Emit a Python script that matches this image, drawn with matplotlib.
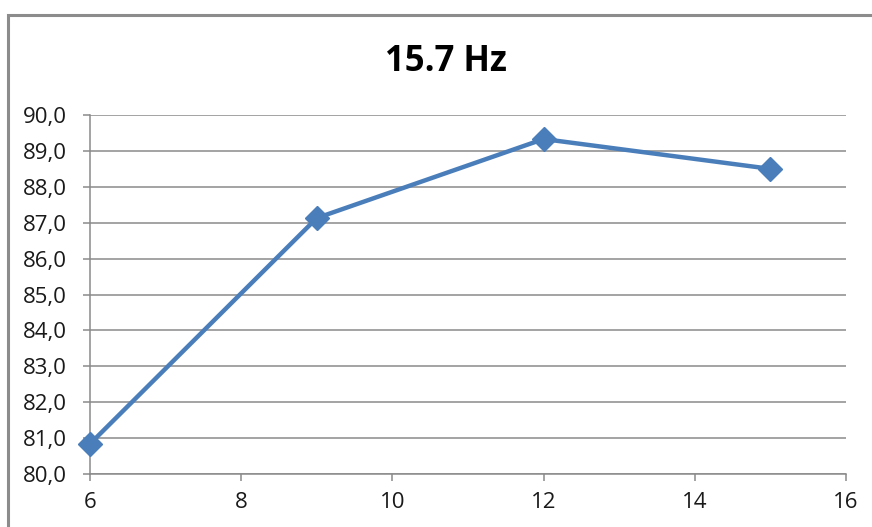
import matplotlib
matplotlib.use("Agg")
import matplotlib.pyplot as plt
from matplotlib.patches import Rectangle

# Series data
x_values = [6, 9, 12, 15]
y_values = [80.84, 87.13, 89.33, 88.50]
x_ticks = [6, 8, 10, 12, 14, 16]
y_ticks = [80, 81, 82, 83, 84, 85, 86, 87, 88, 89, 90]
title_text = "15.7 Hz"

W, H = 872, 527
fig = plt.figure(figsize=(W / 100, H / 100), dpi=100)
fig.patch.set_facecolor("white")

# outer chart frame (runs off the right and bottom edges)
fig.patches.append(Rectangle((8 / W, -0.1), 1.2, 1 - 15 / H + 0.1,
                             transform=fig.transFigure, fill=False,
                             edgecolor="#8c8c8c", linewidth=2.2, zorder=0))

ax = fig.add_axes([90 / W, 1 - 474 / H, (846 - 90) / W, (474 - 115) / H])
grid_c = "#8a8a8a"

ax.plot(x_values, y_values, color="#4a7ebb", linewidth=3.2, marker="D",
        markersize=12, markerfacecolor="#4a7ebb", markeredgecolor="#4a7ebb",
        clip_on=False, zorder=3)

ax.set_xlim(6, 16)
ax.set_ylim(80, 90)
ax.set_xticks(x_ticks)
ax.set_yticks(y_ticks)
ax.set_yticklabels([f"{v:.1f}".replace(".", ",") for v in y_ticks])
ax.set_xticklabels([str(v) for v in x_ticks])

ax.yaxis.grid(True, color=grid_c, linewidth=1.1)
ax.set_axisbelow(True)
for s in ("top", "right"):
    ax.spines[s].set_visible(False)
for s in ("left", "bottom"):
    ax.spines[s].set_color(grid_c)
    ax.spines[s].set_linewidth(1.1)

ax.tick_params(axis="both", direction="out", length=5, width=1.1,
               color=grid_c, labelcolor="#1a1a1a", labelsize=16)
ax.tick_params(axis="y", pad=12)
ax.tick_params(axis="x", pad=8)
for lbl in ax.get_xticklabels() + ax.get_yticklabels():
    lbl.set_family("Open Sans")

fig.text(446 / W, 1 - 62 / H, title_text, ha="center", va="center",
         fontsize=25, fontweight="bold", family="Open Sans", color="#000000")

fig.savefig("out.png", dpi=100, facecolor="white")
